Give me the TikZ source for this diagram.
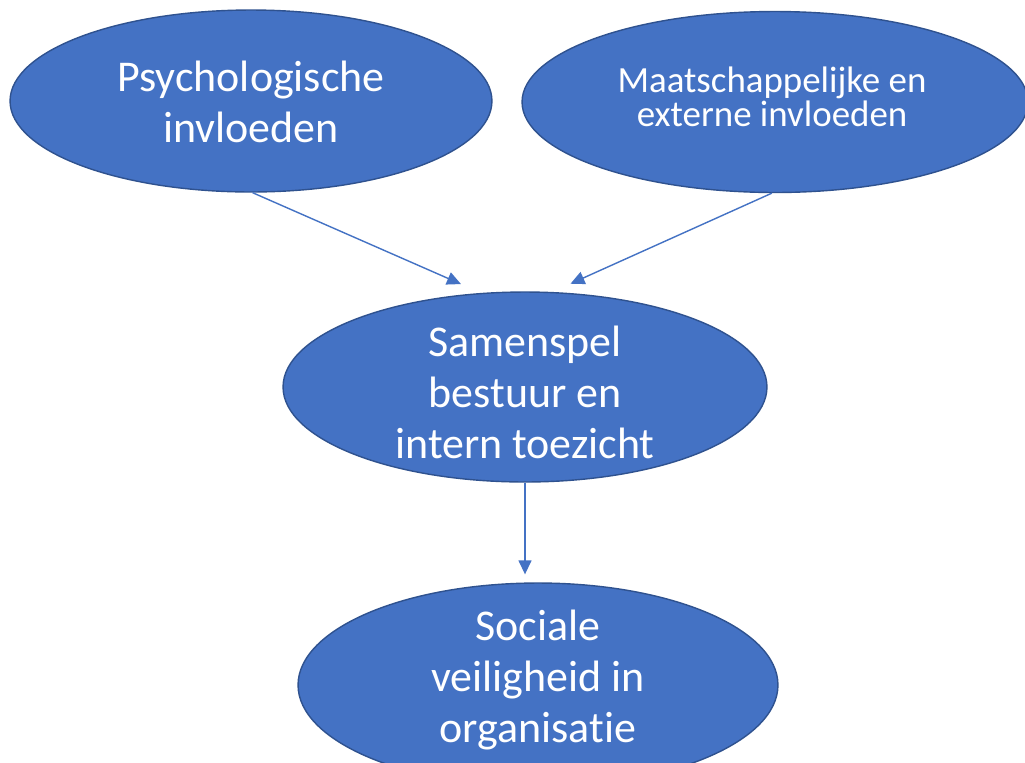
\documentclass[tikz,border=0pt]{standalone}
\usepackage{fontspec}
\setmainfont[Ligatures={NoCommon, NoRare}, RawFeature=-clig, RawFeature=-calt]{Carlito}
\usetikzlibrary{positioning, arrows.meta, shapes.geometric}
\definecolor{officeBlue}{HTML}{4472C4}
\definecolor{officeEdge}{HTML}{2F528F}

\begin{document}
\begin{tikzpicture}[x=0.02cm, y=-0.02cm,
    bubble/.style={ellipse, draw=officeEdge, fill=officeBlue, line width=0.8pt, inner sep=0pt},
    bubbletext/.style={text=white, align=center, font=\fontsize{25}{29}\selectfont},
    flow/.style={draw=officeBlue, line width=0.8pt, -{Triangle[length=0.28cm, width=0.26cm]}}]
    \clip (0,0) rectangle (1025,762);
    \fill[white] (0,0) rectangle (1025,762);
    % ellipses
    \node[bubble, minimum width=9.64cm, minimum height=3.64cm] (psy) at (251,101) {};
    \node[bubble, minimum width=10.12cm, minimum height=3.62cm] (maat) at (775,102) {};
    \node[bubble, minimum width=9.68cm, minimum height=3.8cm] (sam) at (525,387) {};
    \node[bubble, minimum width=9.6cm, minimum height=4.08cm] (soc) at (538,685) {};
    % labels
    \node[bubbletext] (psyText) at ([yshift=-0.02cm]psy.center) {Psychologische\\invloeden};
    \node[bubbletext, font=\fontsize{21}{16.5}\selectfont] (maatText) at ([xshift=-0.06cm, yshift=0.1cm]maat.center) {Maatschappelijke en\\externe invloeden};
    \node[bubbletext] (samText) at ([yshift=-0.1cm]sam.center) {Samenspel\\bestuur en\\intern toezicht};
    \node[bubbletext] (socText) at ([yshift=0.1cm]soc.center) {Sociale\\veiligheid in\\organisatie};
    % arrows
    \draw[flow, shorten >=0.44cm] (psy.271) -- (sam.115);
    \draw[flow, shorten >=0.4cm] (maat.268) -- (sam.74);
    \draw[flow, shorten >=0.16cm] (sam.south) -- (sam.south |- soc.north);
\end{tikzpicture}
\end{document}
